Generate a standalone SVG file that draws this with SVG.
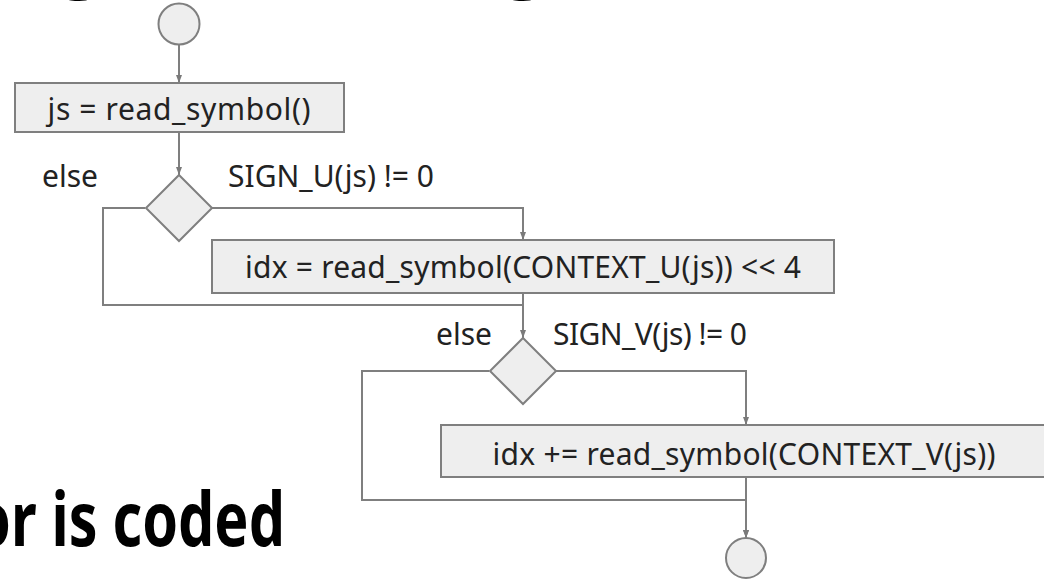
<svg xmlns="http://www.w3.org/2000/svg" width="1044" height="580" viewBox="0 0 1044 580">
  <defs>
    <marker id="arrow" viewBox="0 0 8 8" refX="8" refY="4" markerWidth="8" markerHeight="8" markerUnits="userSpaceOnUse" orient="auto">
      <path d="M0,1 L8,4 L0,7 z" fill="#7a7a7a"/>
    </marker>
    <style>
      .shape { fill: #eeeeee; stroke: #7f7f7f; stroke-width: 2; }
      .edge { fill: none; stroke: #7f7f7f; stroke-width: 2; }
      .lbl { font-family: "Noto Sans", "Open Sans", sans-serif; font-size: 30px; fill: #222222; }
      .title { font-family: "Noto Sans", "Open Sans", sans-serif; font-weight: bold; font-size: 75px; fill: #000000; }
    </style>
  </defs>

  <rect width="1044" height="580" fill="#ffffff"/>

  <!-- slide headline, mostly above the frame -->
  <g id="headline">
    <text class="title" x="58" y="-17">g</text>
    <text class="title" x="502" y="-17">g</text>
  </g>
  <text class="title" x="285" y="546" text-anchor="end" textLength="310" lengthAdjust="spacingAndGlyphs">or is coded</text>

  <!-- connectors -->
  <g id="connectors">
    <path class="edge" d="M179,45 L179,83" marker-end="url(#arrow)"/>
    <path class="edge" d="M179,132 L179,175" marker-end="url(#arrow)"/>
    <path class="edge" d="M211,208 L523,208 L523,240" marker-end="url(#arrow)"/>
    <path class="edge" d="M145,208 L103,208 L103,305 L523,305"/>
    <path class="edge" d="M523,293 L523,338" marker-end="url(#arrow)"/>
    <path class="edge" d="M556,371 L746,371 L746,425" marker-end="url(#arrow)"/>
    <path class="edge" d="M489,371 L362,371 L362,500 L746,500 L746,538" marker-end="url(#arrow)"/>
    <path class="edge" d="M746,477 L746,538" marker-end="url(#arrow)"/>
  </g>

  <g id="start">
    <circle class="shape" cx="179" cy="24" r="20.5"/>
  </g>

  <g id="read-js">
    <rect class="shape" x="15" y="83" width="329" height="49"/>
    <text class="lbl" x="179" y="120" text-anchor="middle" textLength="263">js = read_symbol()</text>
  </g>

  <g id="sign-u">
    <polygon class="shape" points="179,175 212,208 179,241 146,208"/>
    <text class="lbl" x="98" y="187" text-anchor="end">else</text>
    <text class="lbl" x="228" y="187" textLength="206">SIGN_U(js) != 0</text>
  </g>

  <g id="read-u">
    <rect class="shape" x="212" y="240" width="622" height="53"/>
    <text class="lbl" x="523" y="278" text-anchor="middle" textLength="556">idx = read_symbol(CONTEXT_U(js)) &lt;&lt; 4</text>
  </g>

  <g id="sign-v">
    <polygon class="shape" points="523,338 556,371 523,404 490,371"/>
    <text class="lbl" x="492" y="345" text-anchor="end">else</text>
    <text class="lbl" x="553" y="345" textLength="194">SIGN_V(js) != 0</text>
  </g>

  <g id="read-v">
    <rect class="shape" x="441" y="425" width="610" height="52"/>
    <text class="lbl" x="744" y="465" text-anchor="middle" textLength="503">idx += read_symbol(CONTEXT_V(js))</text>
  </g>

  <g id="end">
    <circle class="shape" cx="746" cy="558" r="20"/>
  </g>
</svg>
